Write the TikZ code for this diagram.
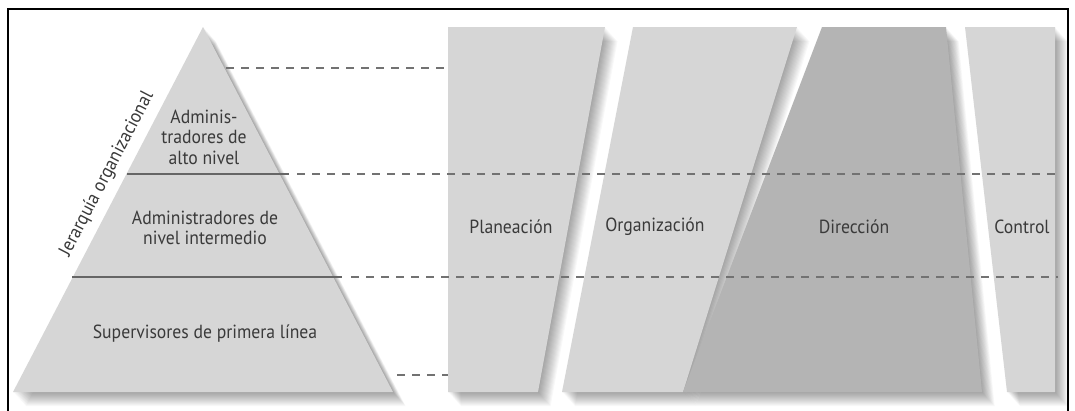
\documentclass[tikz,border=0pt]{standalone}
\usepackage{fontspec}
\setmainfont{PT Sans}[FakeStretch=0.93]
\definecolor{lightcol}{HTML}{D6D6D6}
\definecolor{darkcol}{HTML}{B4B4B4}
\definecolor{txtcol}{HTML}{3A3A3A}
\definecolor{dashcol}{HTML}{727272}
\definecolor{solidcol}{HTML}{666666}
\tikzset{
  shadowstep/.style={fill=black, opacity=0.027},
  levelline/.style={draw=solidcol, line width=1.6pt},
  guideline/.style={draw=dashcol, line width=1.8pt, dash pattern=on 8pt off 7pt},
  lbl/.style={text=txtcol, font=\fontsize{19}{20.5}\selectfont, align=center, inner sep=0pt},
}
\newcommand\myshadedshape[2]{%
  \foreach \i in {1,...,14}{\fill[shadowstep, shift={(\i*0.9,\i*1.0)}] #2;}%
  \fill[#1] #2;}
\begin{document}
\begin{tikzpicture}[x=1pt,y=-1pt]
\useasboundingbox (0,0) rectangle (1075,410);
\fill[white] (0,0) rectangle (1075,410);
% frame
\draw[line width=2pt, black] (8,412) -- (8,9) -- (1068,9) -- (1068,412);
% function columns
\myshadedshape{lightcol}{(448,27) -- (605,27) -- (538,392) -- (448,392) -- cycle}
\myshadedshape{lightcol}{(633,27) -- (797,27) -- (683,392) -- (562,392) -- cycle}
\myshadedshape{darkcol}{(822,27) -- (946,27) -- (982,392) -- (683,392) -- cycle}
\myshadedshape{lightcol}{(965,27) -- (1055,27) -- (1055,392) -- (1007,392) -- cycle}
% pyramid
\myshadedshape{lightcol}{(203,27) -- (393,392) -- (13,392) -- cycle}
% coordinates for lines
\coordinate (t1) at (226,68);   \coordinate (t2) at (448,68);
\coordinate (a1) at (127,174);  \coordinate (a2) at (289,174);
\coordinate (a3) at (297,174);  \coordinate (a4) at (1058,174);
\coordinate (b1) at (72,277);   \coordinate (b2) at (342,277);
\coordinate (b3) at (351,277);  \coordinate (b4) at (1058,277);
\coordinate (c1) at (397,375);  \coordinate (c2) at (448,375);
\draw[levelline] (a1) -- (a2);
\draw[levelline] (b1) -- (b2);
\draw[guideline] (t1) -- (t2);
\draw[guideline] (a3) -- (a4);
\draw[guideline] (b3) -- (b4);
\draw[guideline] (c1) -- (c2);
% labels
\node[lbl] (alto) at (204,137) {Adminis-\\tradores de\\alto nivel};
\node[lbl] (inter) at (205,228) {Administradores de\\nivel intermedio};
\node[lbl] (super) at (205,334) {Supervisores de primera línea};
\node[lbl, rotate=62.5] (jer) at (107,174) {Jerarquía organizacional};
\node[lbl] (plan) at (511,227) {Planeación};
\node[lbl] (org) at (655,227) {Organización};
\node[lbl] (dir) at (854,227) {Dirección};
\node[lbl] (ctrl) at (1022,227) {Control};
\end{tikzpicture}
\end{document}
